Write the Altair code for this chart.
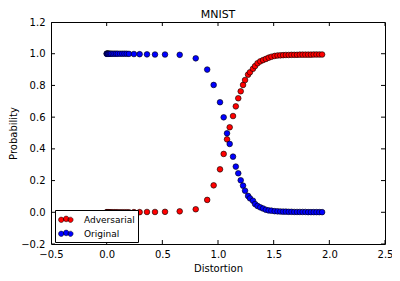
import altair as alt
import pandas as pd

distortion = [0, 0.002, 0.005, 0.01, 0.015, 0.02, 0.03, 0.04, 0.055, 0.07, 0.085, 0.1, 0.12, 0.14, 0.16, 0.18, 0.2,
              0.245, 0.296, 0.362, 0.434, 0.524, 0.656, 0.80, 0.903,
              0.961, 1.018, 1.051, 1.081, 1.105, 1.135, 1.16, 1.182, 1.204, 1.225, 1.243, 1.27, 1.287, 1.314, 1.333,
              1.355, 1.38, 1.405, 1.43, 1.455, 1.48,
              1.509, 1.535, 1.56, 1.585, 1.61, 1.635, 1.66, 1.685, 1.71, 1.735, 1.76, 1.785, 1.81, 1.835, 1.86, 1.885,
              1.91, 1.935]

original = [1.0] * 16 + [0.999,
            0.998, 0.997, 0.996, 0.995, 0.995, 0.993, 0.971, 0.90,
            0.803, 0.694, 0.599, 0.498, 0.431, 0.351, 0.288, 0.246, 0.202, 0.168, 0.136, 0.103, 0.088, 0.073, 0.052,
            0.040, 0.031, 0.024, 0.016, 0.012, 0.010,
            0.007, 0.006, 0.005, 0.004, 0.004, 0.003, 0.003, 0.002, 0.002, 0.002, 0.002, 0.002, 0.001, 0.001, 0.001,
            0.001, 0.001, 0.001]

adversarial = [0.0] * 17 + [
               0.001, 0.001, 0.002, 0.002, 0.003, 0.006, 0.019, 0.078,
               0.170, 0.271, 0.368, 0.460, 0.536, 0.607, 0.668, 0.719, 0.763, 0.803, 0.834, 0.868, 0.883, 0.905, 0.922,
               0.940, 0.952, 0.960, 0.967, 0.975, 0.981,
               0.986, 0.989, 0.990, 0.991, 0.992, 0.992, 0.993, 0.993, 0.993, 0.994, 0.994, 0.994, 0.994, 0.994, 0.995,
               0.995, 0.995, 0.995]

series_names = ["Adversarial", "Original"]
series_colors = ["#ff0000", "#0000ff"]
x_ticks = [-0.5, 0.0, 0.5, 1.0, 1.5, 2.0, 2.5]
y_ticks = [-0.2, 0.0, 0.2, 0.4, 0.6, 0.8, 1.0, 1.2]

rows = []
for name, vals in (("Adversarial", adversarial), ("Original", original)):
    for d, p in zip(distortion, vals):
        rows.append({"Distortion": d, "Probability": p, "series": name})
df = pd.DataFrame(rows)

W, H = 334, 222
FONT = "DejaVu Sans"

xscale = alt.Scale(domain=[-0.5, 2.5], nice=False, zero=False)
yscale = alt.Scale(domain=[-0.2, 1.2], nice=False, zero=False)

three_dots = ("M -1.0 0.05 A 0.45 0.45 0 1 0 -0.1 0.05 A 0.45 0.45 0 1 0 -1.0 0.05 Z "
              "M -0.19 -0.1 A 0.47 0.47 0 1 0 0.75 -0.1 A 0.47 0.47 0 1 0 -0.19 -0.1 Z "
              "M 0.56 0.05 A 0.44 0.44 0 1 0 1.44 0.05 A 0.44 0.44 0 1 0 0.56 0.05 Z")

xaxis = alt.Axis(values=x_ticks, format=".1f", title="Distortion", ticks=False, domain=False,
                 grid=False, labelPadding=5, labelFlush=False, labelOverlap=False,
                 labelFont=FONT, labelFontSize=10, labelColor="black",
                 titleFont=FONT, titleFontSize=10, titleFontWeight="normal", titleColor="black",
                 titlePadding=4)
yaxis = alt.Axis(values=y_ticks, format=".1f", title="Probability", ticks=False, domain=False,
                 grid=False, labelPadding=6, labelFlush=False, labelOverlap=False,
                 labelFont=FONT, labelFontSize=10, labelColor="black",
                 titleFont=FONT, titleFontSize=10, titleFontWeight="normal", titleColor="black",
                 titlePadding=2)

points = alt.Chart(df).mark_circle(size=32, opacity=1, stroke="black", strokeWidth=0.6).encode(
    x=alt.X("Distortion:Q", scale=xscale, axis=xaxis),
    y=alt.Y("Probability:Q", scale=yscale, axis=yaxis),
    color=alt.Color("series:N", scale=alt.Scale(domain=series_names, range=series_colors),
                    legend=alt.Legend(title=None, orient="none", legendX=4, legendY=188,
                                      fillColor="white", strokeColor="black", padding=3,
                                      symbolType=three_dots, symbolSize=144, symbolStrokeColor="black",
                                      symbolStrokeWidth=0.5, symbolOpacity=1,
                                      labelFont=FONT, labelFontSize=9, labelColor="black",
                                      labelOffset=13, rowPadding=2, cornerRadius=0, zindex=2)),
    order=alt.Order("series:N", sort="ascending"),
)

xt = pd.DataFrame({"Distortion": x_ticks})
yt = pd.DataFrame({"Probability": y_ticks})

tick_style = dict(color="black", size=8, thickness=1, clip=True, opacity=1)
bottom = alt.Chart(xt).mark_tick(orient="vertical", **tick_style).encode(
    x=alt.X("Distortion:Q", scale=xscale, axis=xaxis), y=alt.value(H))
top = alt.Chart(xt).mark_tick(orient="vertical", **tick_style).encode(
    x=alt.X("Distortion:Q", scale=xscale, axis=xaxis), y=alt.value(0))
left = alt.Chart(yt).mark_tick(orient="horizontal", **tick_style).encode(
    y=alt.Y("Probability:Q", scale=yscale, axis=yaxis), x=alt.value(0))
right = alt.Chart(yt).mark_tick(orient="horizontal", **tick_style).encode(
    y=alt.Y("Probability:Q", scale=yscale, axis=yaxis), x=alt.value(W))

chart = alt.layer(points, bottom, top, left, right).properties(
    width=W, height=H,
    title=alt.TitleParams("MNIST", font=FONT, fontSize=11, fontWeight="normal", color="black",
                          offset=-3, frame="group"),
    autosize=alt.AutoSizeParams(type="none"),
    padding={"left": 43, "top": 14, "right": 7, "bottom": 29},
).configure_view(stroke="black", strokeWidth=1)

chart.save("out.html", embed_options={"renderer": "svg", "actions": False})
